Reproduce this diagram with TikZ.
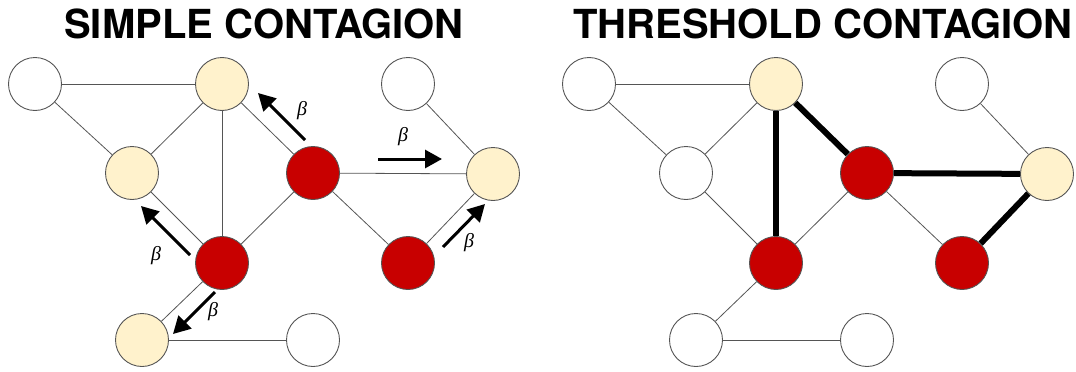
\documentclass[tikz,border=0pt]{standalone}
\usepackage{fontspec}
\newfontfamily\titlefont{TeX Gyre Heros}
\newfontfamily\betafont{Liberation Serif}
\usetikzlibrary{arrows.meta}
\definecolor{infyel}{HTML}{FFF2CC}
\definecolor{infred}{HTML}{C80000}
\definecolor{edgegray}{HTML}{555555}
\tikzset{
  vnode/.style={circle,draw=edgegray,line width=0.9pt,minimum size=53pt,inner sep=0pt},
  wnode/.style={vnode,fill=white},
  ynode/.style={vnode,fill=infyel},
  rnode/.style={vnode,fill=infred},
  thin edge/.style={draw=edgegray,line width=0.8pt},
  thick edge/.style={draw=black,line width=6pt},
  spread/.style={draw=black,line width=3pt,-{Triangle[length=17pt,width=18pt]}},
  betalbl/.style={font=\betafont\itshape\fontsize{20}{22}\selectfont},
  title/.style={font=\titlefont\bfseries\fontsize{40}{44}\selectfont,anchor=base}
}
\begin{document}
\begin{tikzpicture}[x=1pt,y=-1pt]
\useasboundingbox (0,0) rectangle (1076,372);
% titles
\node[title] (t1) at (264,38) {SIMPLE CONTAGION};
\node[title] (t2) at (823,38) {THRESHOLD CONTAGION};
% ---------- left panel ----------
\node[wnode] (la) at (35,84) {};
\node[ynode] (lb) at (222,84) {};
\node[ynode] (lc) at (132,173) {};
\node[rnode] (ld) at (313,173) {};
\node[wnode] (le) at (408,84) {};
\node[ynode] (lf) at (493,174) {};
\node[rnode] (lg) at (222,263) {};
\node[rnode] (lh) at (408,263) {};
\node[ynode] (li) at (142,340) {};
\node[wnode] (lj) at (313,340) {};
\draw[thin edge] (la) -- (lb);
\draw[thin edge] (la) -- (lc);
\draw[thin edge] (lb) -- (lc);
\draw[thin edge] (lb) -- (lg);
\draw[thin edge] (lb) -- (ld);
\draw[thin edge] (lc) -- (lg);
\draw[thin edge] (ld) -- (lg);
\draw[thin edge] (ld) -- (lf);
\draw[thin edge] (ld) -- (lh);
\draw[thin edge] (le) -- (lf);
\draw[thin edge] (lh) -- (lf);
\draw[thin edge] (lg) -- (li);
\draw[thin edge] (li) -- (lj);
% spreading arrows
\coordinate (a1s) at (305,140); \coordinate (a1e) at (258,93);
\coordinate (a2s) at (378,159); \coordinate (a2e) at (442,159);
\coordinate (a3s) at (443,247); \coordinate (a3e) at (485,204);
\coordinate (a4s) at (190,255); \coordinate (a4e) at (141,206);
\coordinate (a5s) at (215,292); \coordinate (a5e) at (173,334);
\draw[spread] (a1s) -- (a1e);
\draw[spread] (a2s) -- (a2e);
\draw[spread] (a3s) -- (a3e);
\draw[spread] (a4s) -- (a4e);
\draw[spread] (a5s) -- (a5e);
\node[betalbl] (b1) at (302,111) {β};
\node[betalbl] (b2) at (403,137) {β};
\node[betalbl] (b3) at (469,243) {β};
\node[betalbl] (b4) at (156,256) {β};
\node[betalbl] (b5) at (213,312) {β};
% ---------- right panel ----------
\node[wnode] (ra) at (589,84) {};
\node[ynode] (rb) at (776,84) {};
\node[wnode] (rc) at (686,173) {};
\node[rnode] (rd) at (867,173) {};
\node[wnode] (re) at (962,84) {};
\node[ynode] (rf) at (1047,174) {};
\node[rnode] (rg) at (776,263) {};
\node[rnode] (rh) at (962,263) {};
\node[wnode] (ri) at (696,340) {};
\node[wnode] (rj) at (867,340) {};
\draw[thin edge] (ra) -- (rb);
\draw[thin edge] (ra) -- (rc);
\draw[thin edge] (rb) -- (rc);
\draw[thin edge] (rc) -- (rg);
\draw[thin edge] (rd) -- (rg);
\draw[thin edge] (rd) -- (rh);
\draw[thin edge] (re) -- (rf);
\draw[thin edge] (rg) -- (ri);
\draw[thin edge] (ri) -- (rj);
\draw[thick edge] (rb) -- (rg);
\draw[thick edge] (rb) -- (rd);
\draw[thick edge] (rd) -- (rf);
\draw[thick edge] (rf) -- (rh);
\end{tikzpicture}
\end{document}
